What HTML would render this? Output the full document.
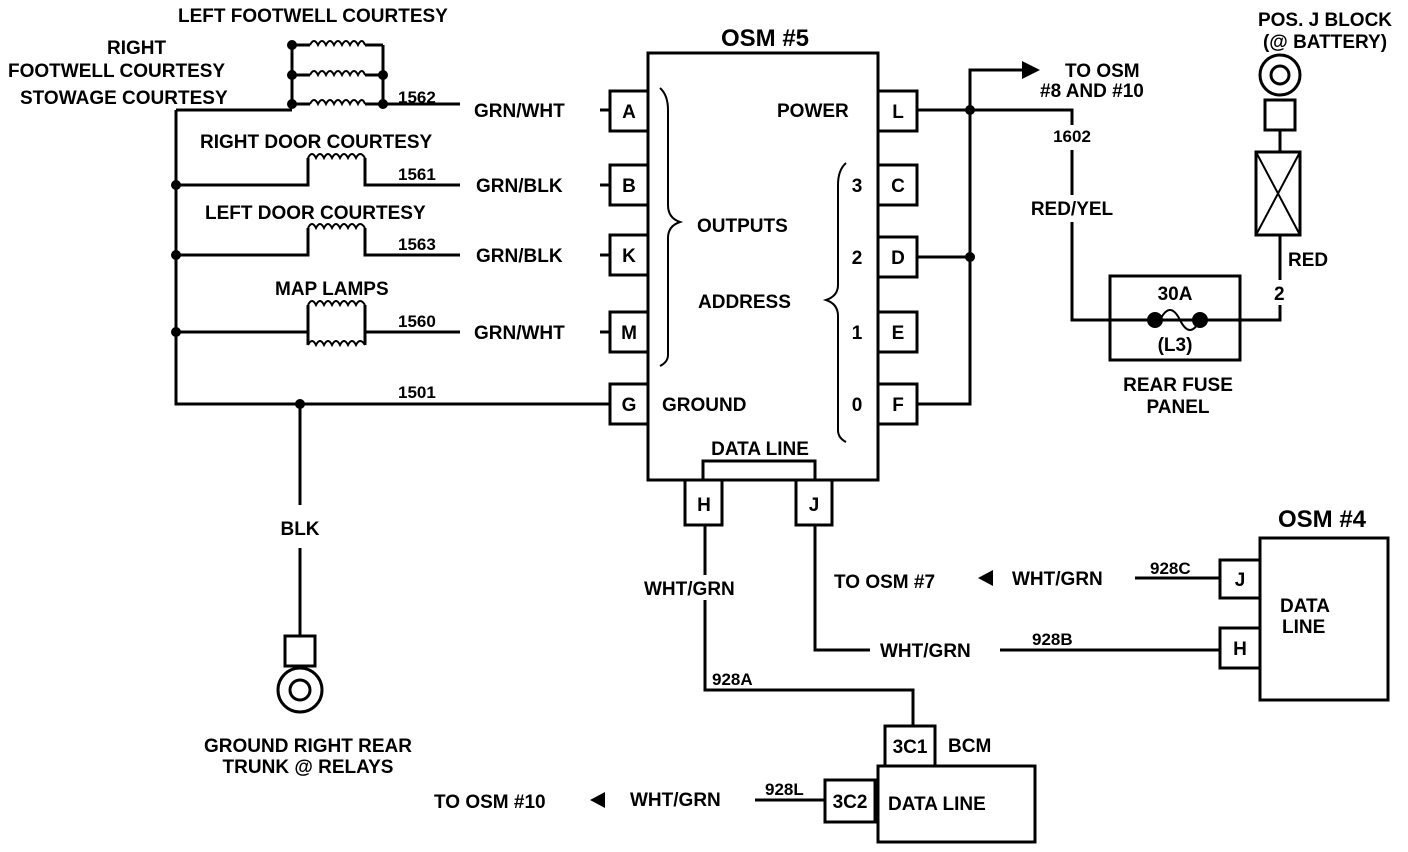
<!DOCTYPE html>
<html><head><meta charset="utf-8"><style>
html,body{margin:0;padding:0;background:#fff;}
svg{display:block;}
text{font-family:"Liberation Sans",sans-serif;font-weight:bold;font-size:19px;fill:#000;}
.s{font-size:17px;}
.t{font-size:24px;}
</style></head><body>
<svg width="1408" height="852" viewBox="0 0 1408 852" xmlns="http://www.w3.org/2000/svg">
<g fill="none" stroke="#000" stroke-width="3">
<rect x="648" y="53" width="230" height="427"/>
<rect x="703" y="461" width="112" height="19"/>
<rect x="610" y="91" width="38" height="40"/>
<rect x="610" y="165" width="38" height="40"/>
<rect x="610" y="235" width="38" height="40"/>
<rect x="610" y="312" width="38" height="40"/>
<rect x="610" y="384" width="38" height="40"/>
<rect x="878" y="91" width="39" height="40"/>
<rect x="878" y="165" width="39" height="40"/>
<rect x="878" y="237" width="39" height="40"/>
<rect x="878" y="312" width="39" height="40"/>
<rect x="878" y="384" width="39" height="40"/>
<rect x="685" y="480" width="37" height="45"/>
<rect x="796" y="480" width="36" height="45"/>
<path d="M660 88 Q668 95 668 110 L668 205 Q668 218 680 222 Q668 226 668 238 L668 355 Q668 362 660 366" stroke-width="2"/>
<path d="M846 163 Q838 170 838 185 L838 285 Q838 296 826 300 Q838 304 838 316 L838 430 Q838 438 846 442" stroke-width="2"/>
<path d="M176 110 L176 404 L610 404"/>
<path d="M176 110 L292 110"/>
<path d="M383 104 L460 104 M600 110 L610 110"/>
<path d="M292 45 L292 104 M383 45 L383 104"/>
<path d="M292 45 L310 45 M365 45 L383 45 M292 75 L310 75 M365 75 L383 75 M292 104 L310 104 M365 104 L383 104"/>
<path d="M176 185 L308 185 L308 158 M365 158 L365 185 L460 185 M600 185 L610 185"/>
<path d="M176 255 L308 255 L308 228 M365 228 L365 255 L460 255 M600 255 L610 255"/>
<path d="M176 332 L308 332 M365 332 L460 332 M600 332 L610 332"/>
<path d="M308 305 L308 345 M365 305 L365 345"/>
<g stroke-width="2">
<path d="M310 45 q4 -8 8 0 q4 -8 8 0 q4 -8 8 0 q4 -8 8 0 q4 -8 8 0 q4 -8 8 0 q4 -8 7 0"/>
<path d="M310 75 q4 -8 8 0 q4 -8 8 0 q4 -8 8 0 q4 -8 8 0 q4 -8 8 0 q4 -8 8 0 q4 -8 7 0"/>
<path d="M310 104 q4 -8 8 0 q4 -8 8 0 q4 -8 8 0 q4 -8 8 0 q4 -8 8 0 q4 -8 8 0 q4 -8 7 0"/>
<path d="M308 158 q4 -8 8 0 q4 -8 8 0 q4 -8 8 0 q4 -8 8 0 q4 -8 8 0 q4 -8 8 0 q4 -8 9 0"/>
<path d="M308 228 q4 -8 8 0 q4 -8 8 0 q4 -8 8 0 q4 -8 8 0 q4 -8 8 0 q4 -8 8 0 q4 -8 9 0"/>
<path d="M308 305 q4 -8 8 0 q4 -8 8 0 q4 -8 8 0 q4 -8 8 0 q4 -8 8 0 q4 -8 8 0 q4 -8 9 0"/>
<path d="M308 345 q4 -8 8 0 q4 -8 8 0 q4 -8 8 0 q4 -8 8 0 q4 -8 8 0 q4 -8 8 0 q4 -8 9 0"/>
</g>
<path d="M300 404 L300 505 M300 548 L300 636"/>
<rect x="285" y="636" width="30" height="30"/>
<circle cx="300" cy="690" r="22"/>
<circle cx="300" cy="690" r="10"/>
<path d="M917 110 L1072 110 L1072 125 M1072 150 L1072 195 M1072 222 L1072 320 L1280 320 L1280 305 M1280 280 L1280 235"/>
<path d="M917 257 L970 257 M917 404 L970 404 L970 70 L1025 70"/>
<rect x="1110" y="276" width="130" height="84"/>
<path d="M1160 320 Q1170 300 1180 320 Q1190 340 1200 320" stroke-width="2"/>
<rect x="1256" y="152" width="44" height="83"/>
<path d="M1256 152 L1300 235 M1300 152 L1256 235" stroke-width="2"/>
<path d="M1280 152 L1280 130"/>
<rect x="1265" y="100" width="30" height="30"/>
<circle cx="1280" cy="75" r="20"/>
<circle cx="1280" cy="75" r="9"/>
<path d="M705 525 L705 575 M705 600 L705 690 L913 690 L913 725"/>
<path d="M815 525 L815 650 L870 650 M1000 650 L1220 650"/>
<path d="M1135 578 L1220 578"/>
<path d="M755 800 L825 800"/>
<rect x="1260" y="538" width="128" height="162"/>
<rect x="1220" y="560" width="40" height="38"/>
<rect x="1220" y="628" width="40" height="40"/>
<rect x="885" y="726" width="50" height="40"/>
<rect x="878" y="766" width="157" height="76"/>
<rect x="825" y="780" width="50" height="42"/>
</g>
<g fill="#000">
<path d="M1022 61 L1040 70 L1022 79 Z"/>
<path d="M978 578 L993 570 L993 586 Z"/>
<path d="M590 800 L605 792 L605 808 Z"/>
<circle cx="292" cy="45" r="5"/><circle cx="292" cy="75" r="5"/><circle cx="292" cy="104" r="5"/>
<circle cx="383" cy="75" r="5"/><circle cx="383" cy="104" r="5"/>
<circle cx="176" cy="185" r="5"/><circle cx="176" cy="255" r="5"/><circle cx="176" cy="332" r="5"/>
<circle cx="300" cy="404" r="5"/>
<circle cx="970" cy="110" r="5"/><circle cx="970" cy="257" r="5"/>
<circle cx="1155" cy="320" r="8"/><circle cx="1200" cy="320" r="8"/>
</g>
<text x="765" y="46" text-anchor="middle" class="t">OSM #5</text>
<text x="178" y="22">LEFT FOOTWELL COURTESY</text>
<text x="107" y="54">RIGHT</text>
<text x="8" y="77">FOOTWELL COURTESY</text>
<text x="20" y="104">STOWAGE COURTESY</text>
<text x="398" y="103" class="s">1562</text>
<text x="200" y="148">RIGHT DOOR COURTESY</text>
<text x="398" y="180" class="s">1561</text>
<text x="205" y="219">LEFT DOOR COURTESY</text>
<text x="398" y="250" class="s">1563</text>
<text x="275" y="295">MAP LAMPS</text>
<text x="398" y="327" class="s">1560</text>
<text x="398" y="398" class="s">1501</text>
<text x="474" y="117">GRN/WHT</text>
<text x="476" y="192">GRN/BLK</text>
<text x="476" y="262">GRN/BLK</text>
<text x="474" y="339">GRN/WHT</text>
<g text-anchor="middle">
<text x="629" y="118">A</text><text x="629" y="192">B</text><text x="629" y="262">K</text><text x="629" y="339">M</text><text x="629" y="411">G</text>
<text x="898" y="118">L</text><text x="898" y="192">C</text><text x="898" y="264">D</text><text x="898" y="339">E</text><text x="898" y="411">F</text>
<text x="704" y="511">H</text><text x="814" y="511">J</text>
<text x="857" y="192">3</text><text x="857" y="264">2</text><text x="857" y="339">1</text><text x="857" y="411">0</text>
<text x="1240" y="586">J</text><text x="1240" y="655">H</text>
<text x="910" y="753">3C1</text><text x="850" y="808">3C2</text>
<text x="300" y="535">BLK</text>
<text x="308" y="752">GROUND RIGHT REAR</text>
<text x="308" y="773">TRUNK @ RELAYS</text>
<text x="1175" y="300">30A</text>
<text x="1175" y="351">(L3)</text>
<text x="1178" y="391">REAR FUSE</text>
<text x="1178" y="413">PANEL</text>
<text x="1325" y="26">POS. J BLOCK</text>
<text x="1325" y="48">(@ BATTERY)</text>
<text x="1072" y="142" class="s">1602</text>
<text x="1072" y="215">RED/YEL</text>
<text x="760" y="455">DATA LINE</text>
<text x="1322" y="527" class="t">OSM #4</text>
</g>
<text x="777" y="117">POWER</text>
<text x="697" y="232">OUTPUTS</text>
<text x="698" y="308">ADDRESS</text>
<text x="662" y="411">GROUND</text>
<text x="1065" y="77">TO OSM</text>
<text x="1040" y="97">#8 AND #10</text>
<text x="1288" y="266">RED</text>
<text x="1274" y="300">2</text>
<text x="644" y="595">WHT/GRN</text>
<text x="712" y="685" class="s">928A</text>
<text x="834" y="588">TO OSM #7</text>
<text x="1012" y="585">WHT/GRN</text>
<text x="1150" y="574" class="s">928C</text>
<text x="880" y="657">WHT/GRN</text>
<text x="1032" y="645" class="s">928B</text>
<text x="1280" y="612">DATA</text>
<text x="1282" y="633">LINE</text>
<text x="948" y="752">BCM</text>
<text x="888" y="810">DATA LINE</text>
<text x="434" y="808">TO OSM #10</text>
<text x="630" y="806">WHT/GRN</text>
<text x="765" y="795" class="s">928L</text>
</svg>
</body></html>
